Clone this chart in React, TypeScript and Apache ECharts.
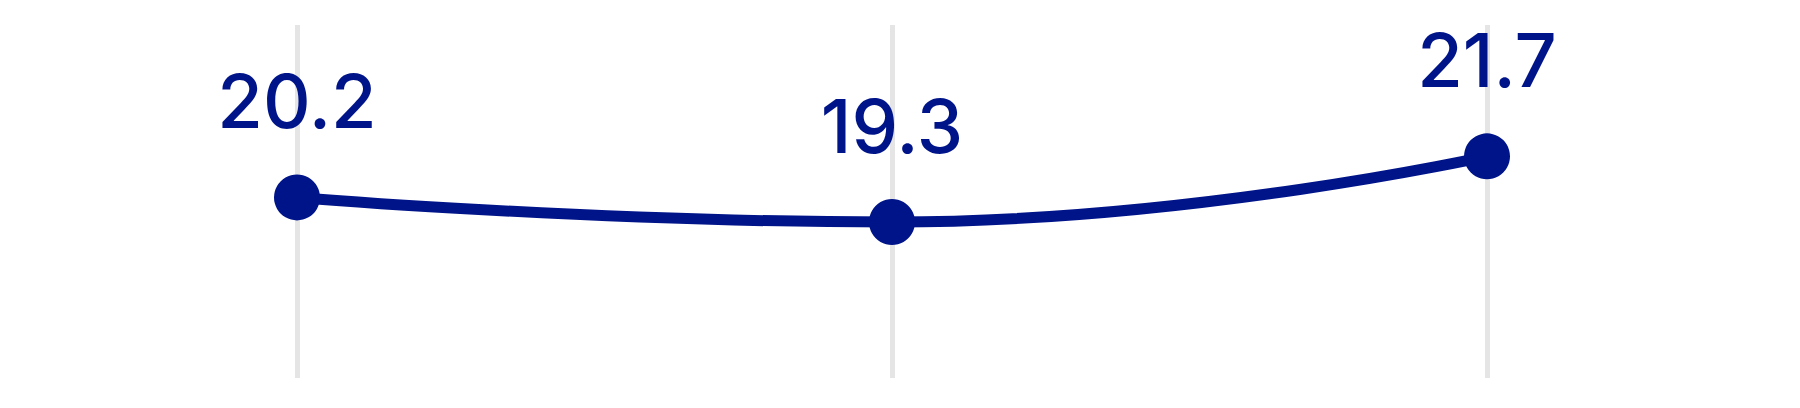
import { useEffect, useRef } from "react";
import * as echarts from "echarts";

const categories = ["A", "B", "C"];
const values = [20.2, 19.3, 21.7];

const yMin = 13.6;
const yMax = 26.5;

const navy = "#001489";

export default function App() {
  const chartRef = useRef<HTMLDivElement>(null);

  useEffect(() => {
    const chart = echarts.init(chartRef.current!, null, { renderer: "svg" });

    chart.setOption({
      animation: false,
      grid: { left: 289, right: 305, top: 17, bottom: 22 },
      xAxis: {
        type: "category",
        data: categories,
        boundaryGap: false,
        axisLine: { show: false },
        axisTick: { show: false },
        axisLabel: { show: false },
        splitLine: { show: true, lineStyle: { color: "#e5e5e5", width: 5 } },
      },
      yAxis: {
        type: "value",
        min: yMin,
        max: yMax,
        show: false,
        splitLine: { show: false },
      },
      series: [
        {
          type: "line",
          data: values,
          smooth: true,
          symbol: "circle",
          symbolSize: 46,
          itemStyle: { color: navy },
          lineStyle: { color: navy, width: 11 },
          label: {
            show: true,
            position: "top",
            distance: 36,
            color: navy,
            fontFamily: "Inter",
            fontWeight: 500,
            fontSize: 74,
            formatter: (p: any) => p.value.toFixed(1),
          },
        },
      ],
    });

    const handleResize = () => chart.resize();
    window.addEventListener("resize", handleResize);

    return () => {
      window.removeEventListener("resize", handleResize);
      chart.dispose();
    };
  }, []);

  return <div ref={chartRef} style={{ width: "1784px", height: "392px" }} />;
}
